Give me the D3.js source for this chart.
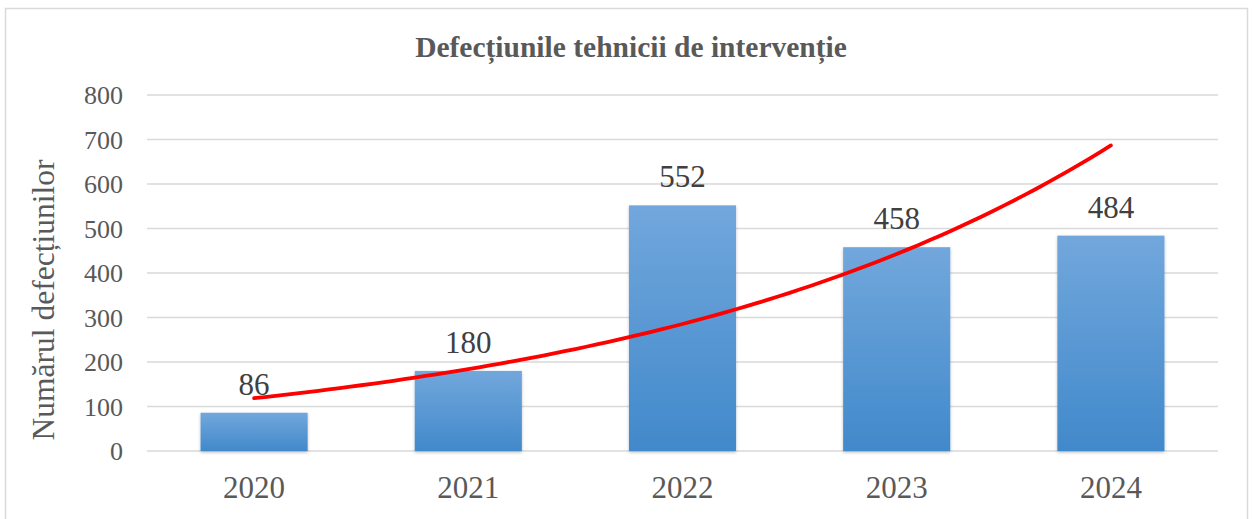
<!DOCTYPE html>
<html>
<head>
<meta charset="utf-8">
<script src="https://cdn.jsdelivr.net/npm/d3@7"></script>
<style>
  body { margin: 0; background: #fff; }
  svg { display: block; font-family: "Liberation Serif", "Times New Roman", serif; }
</style>
</head>
<body>
<svg id="chart" width="1254" height="519"></svg>
<script>
// data
const years = ['2020', '2021', '2022', '2023', '2024'];
const defects = [86, 180, 552, 458, 484];
const yTicks = [0, 100, 200, 300, 400, 500, 600, 700, 800];

const svg = d3.select('#chart');
const margin = { left: 147, right: 36, top: 95, bottom: 68 };
const width = 1254, height = 519;

// outer frame
svg.append('rect')
  .attr('x', 5.5).attr('y', 8.5)
  .attr('width', 1242).attr('height', 520)
  .attr('fill', '#fff')
  .attr('stroke', '#d9d9d9')
  .attr('stroke-width', 1.5);

const x = d3.scaleBand()
  .domain(years)
  .range([margin.left, width - margin.right])
  .paddingInner(0.5)
  .paddingOuter(0.25);

const y = d3.scaleLinear()
  .domain([0, 800])
  .range([height - margin.bottom, margin.top]);

// gradient + shadow for bars
const defs = svg.append('defs');
const grad = defs.append('linearGradient')
  .attr('id', 'barGrad')
  .attr('x1', 0).attr('y1', 0).attr('x2', 0).attr('y2', 1);
grad.append('stop').attr('offset', '0%').attr('stop-color', '#72a7dc');
grad.append('stop').attr('offset', '100%').attr('stop-color', '#4189cb');

const shadow = defs.append('filter').attr('id', 'shadow')
  .attr('x', '-10%').attr('y', '-10%').attr('width', '120%').attr('height', '120%');
shadow.append('feDropShadow')
  .attr('dx', 0).attr('dy', 1.5).attr('stdDeviation', 1.5)
  .attr('flood-color', '#000').attr('flood-opacity', 0.25);

// gridlines
svg.append('g')
  .selectAll('line')
  .data(yTicks)
  .join('line')
  .attr('x1', margin.left)
  .attr('x2', width - margin.right)
  .attr('y1', d => y(d))
  .attr('y2', d => y(d))
  .attr('stroke', '#d9d9d9')
  .attr('stroke-width', 1.5);

// y tick labels
svg.append('g')
  .selectAll('text')
  .data(yTicks)
  .join('text')
  .attr('x', 123)
  .attr('y', d => y(d))
  .attr('dy', '0.35em')
  .attr('text-anchor', 'end')
  .attr('font-size', 26)
  .attr('fill', '#595959')
  .text(d => d);

// bars
svg.append('g')
  .selectAll('rect')
  .data(defects)
  .join('rect')
  .attr('x', (d, i) => x(years[i]))
  .attr('y', d => y(d))
  .attr('width', x.bandwidth())
  .attr('height', d => y(0) - y(d))
  .attr('fill', 'url(#barGrad)')
  .attr('filter', 'url(#shadow)');

// data labels
svg.append('g')
  .selectAll('text')
  .data(defects)
  .join('text')
  .attr('x', (d, i) => x(years[i]) + x.bandwidth() / 2)
  .attr('y', d => y(d) - 18)
  .attr('text-anchor', 'middle')
  .attr('font-size', 31)
  .attr('fill', '#404040')
  .text(d => d);

// x labels
svg.append('g')
  .selectAll('text')
  .data(years)
  .join('text')
  .attr('x', d => x(d) + x.bandwidth() / 2)
  .attr('y', 498)
  .attr('text-anchor', 'middle')
  .attr('font-size', 31)
  .attr('fill', '#595959')
  .text(d => d);

// exponential trendline (least squares on ln y, like Excel)
const idx = defects.map((d, i) => i + 1);
const lnv = defects.map(d => Math.log(d));
const mx = d3.mean(idx), ml = d3.mean(lnv);
const b = d3.sum(idx, (v, i) => (v - mx) * (lnv[i] - ml)) / d3.sum(idx, v => (v - mx) ** 2);
const a = Math.exp(ml - b * mx);

const tx = d3.scaleLinear()
  .domain([1, years.length])
  .range([x(years[0]) + x.bandwidth() / 2, x(years[years.length - 1]) + x.bandwidth() / 2]);

const trend = d3.range(1, years.length + 0.001, 0.05).map(t => [t, a * Math.exp(b * t)]);

svg.append('path')
  .datum(trend)
  .attr('fill', 'none')
  .attr('stroke', '#ff0000')
  .attr('stroke-width', 3.8)
  .attr('stroke-linecap', 'round')
  .attr('d', d3.line().x(d => tx(d[0])).y(d => y(d[1])));

// title
svg.append('text')
  .attr('x', 631)
  .attr('y', 57)
  .attr('text-anchor', 'middle')
  .attr('font-size', 29.5)
  .attr('font-weight', 'bold')
  .attr('fill', '#595959')
  .text('Defecțiunile tehnicii de intervenție');

// y axis title
svg.append('text')
  .attr('transform', 'translate(54,300) rotate(-90)')
  .attr('text-anchor', 'middle')
  .attr('font-size', 31.5)
  .attr('fill', '#595959')
  .text('Numărul defecțiunilor');
</script>
</body>
</html>
